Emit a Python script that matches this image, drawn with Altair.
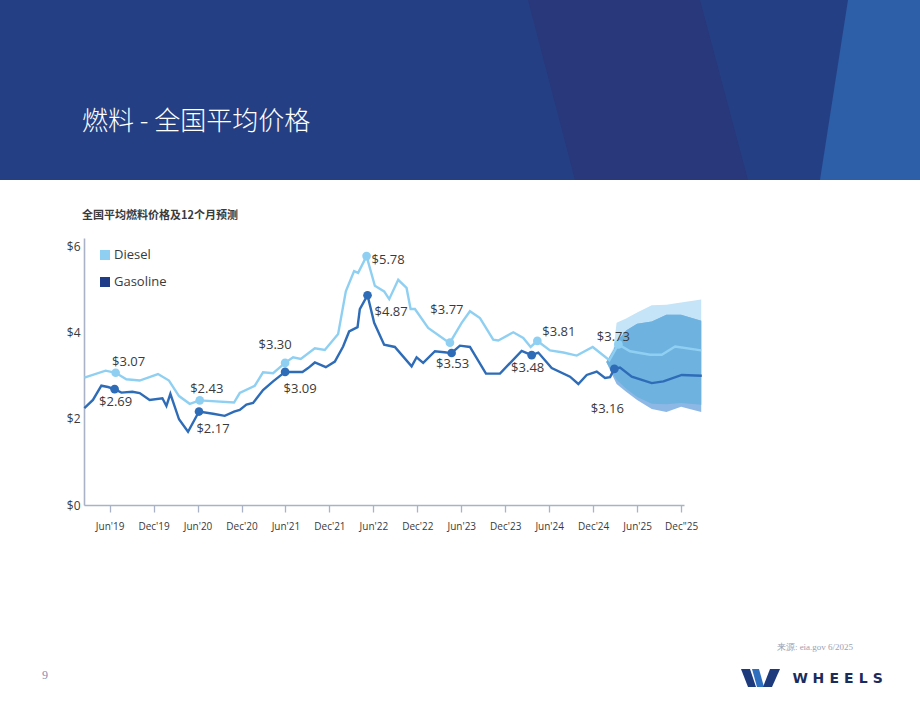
import json
import altair as alt
import pandas as pd

# ------------------------------------------------------------------
# Data: months counted from June 2019 (0 = Jun'19, 6 = Dec'19, ...)
# ------------------------------------------------------------------
diesel_month = [-3.45, -0.55, 0.82, 2.28, 4.10, 6.60, 8.10, 9.47, 10.93, 12.30,
                16.98, 17.76, 19.81, 20.94, 22.31, 23.95, 25.04, 26.09, 28.01, 29.37,
                31.19, 32.24, 33.37, 33.92, 35.07, 36.20, 37.47, 38.16, 39.39, 40.53,
                41.08, 41.67, 43.48, 46.00, 46.45, 48.05, 49.18, 50.55, 52.36, 53.05,
                55.10, 56.46, 57.47, 58.38, 60.11, 61.93, 63.76, 65.94, 68.21, 69.44,
                71.04, 73.77, 75.37, 77.19, 80.74]
diesel_price = [2.96, 3.12, 3.07, 2.92, 2.89, 3.04, 2.89, 2.53, 2.35, 2.43,
                2.38, 2.60, 2.77, 3.08, 3.06, 3.30, 3.43, 3.39, 3.64, 3.60,
                3.97, 4.96, 5.43, 5.39, 5.78, 5.09, 4.96, 4.78, 5.23, 5.04,
                4.55, 4.55, 4.11, 3.81, 3.77, 4.23, 4.50, 4.34, 3.84, 3.82,
                4.01, 3.88, 3.67, 3.81, 3.59, 3.54, 3.47, 3.67, 3.36, 3.73,
                3.57, 3.49, 3.49, 3.68, 3.59]

gas_month = [-3.45, -2.28, -1.13, -0.23, 0.68, 1.60, 3.10, 4.10, 5.46, 7.20,
             7.75, 8.29, 9.47, 10.70, 12.20, 14.11, 15.71, 16.98, 17.76, 18.67,
             19.58, 20.94, 22.31, 23.95, 26.32, 27.09, 28.01, 29.51, 30.74, 31.87,
             32.69, 33.84, 34.15, 35.20, 36.11, 37.47, 38.93, 41.22, 41.90, 42.80,
             44.40, 46.00, 46.68, 47.81, 49.18, 51.37, 53.28, 56.24, 57.61, 58.51,
             60.34, 62.84, 63.98, 65.12, 66.49, 67.62, 68.31, 68.89, 69.67, 71.27,
             74.00, 75.59, 78.10, 80.83]
gas_price = [2.25, 2.44, 2.77, 2.74, 2.69, 2.61, 2.63, 2.60, 2.44, 2.48,
             2.30, 2.58, 1.99, 1.70, 2.17, 2.12, 2.07, 2.17, 2.21, 2.33,
             2.37, 2.67, 2.87, 3.09, 3.09, 3.18, 3.31, 3.20, 3.33, 3.68,
             4.03, 4.13, 4.55, 4.87, 4.23, 3.72, 3.67, 3.22, 3.43, 3.30,
             3.57, 3.54, 3.53, 3.70, 3.67, 3.05, 3.05, 3.58, 3.48, 3.54,
             3.18, 2.98, 2.81, 3.02, 3.10, 2.95, 2.97, 3.16, 3.19, 2.98,
             2.83, 2.87, 3.02, 3.00]

# 12-month forecast ranges
fc_month = [67.8, 68.8, 69.2, 70.5, 72.0, 74.0, 76.0, 78.0, 80.75]
diesel_hi = [3.32, 3.65, 4.23, 4.33, 4.47, 4.64, 4.65, 4.70, 4.77]
diesel_lo = [3.32, 3.02, 2.91, 2.70, 2.51, 2.35, 2.34, 2.37, 2.33]
gas_hi = [3.32, 3.60, 3.79, 4.05, 4.21, 4.26, 4.42, 4.42, 4.28]
gas_lo = [3.32, 2.95, 2.81, 2.63, 2.44, 2.23, 2.16, 2.28, 2.16]

# highlighted prices
diesel_mark_month = [0.82, 12.30, 23.95, 35.07, 46.45, 58.38, 69.44]
diesel_mark_price = [3.07, 2.43, 3.30, 5.78, 3.77, 3.81, 3.73]
gas_mark_month = [0.68, 12.20, 23.95, 35.20, 46.68, 57.61, 68.89]
gas_mark_price = [2.69, 2.17, 3.09, 4.87, 3.53, 3.48, 3.16]

tick_months = list(range(0, 79, 6))
tick_labels = ["Jun'19", "Dec'19", "Jun'20", "Dec'20", "Jun'21", "Dec'21", "Jun'22",
               "Dec'22", "Jun'23", "Dec'23", "Jun'24", "Dec'24", "Jun'25", 'Dec"25']
y_ticks = [0, 2, 4, 6]

# label placement (dx, dy, align) for each highlighted price
diesel_label_style = [(13, -11, "center"), (7, -11, "center"), (-10, -18, "center"),
                      (5, 4, "left"), (-3, -33, "center"), (5, -9, "left"), (-5, -7, "center")]
gas_label_style = [(1, 13, "center"), (14, 17, "center"), (15, 17, "center"),
                   (7, 17, "left"), (1, 11, "center"), (-4, 13, "center"), (-7, 40, "center")]

# ------------------------------------------------------------------
# Style
# ------------------------------------------------------------------
FONT = "Open Sans"
CJK = "Noto Sans CJK SC"
DIESEL = "#8fd0f2"
GAS = "#2e6cb8"
GAS_KEY = "#1f3c88"
AXIS = "#a9b2c6"
TEXT = "#3a3a3a"
BAND_D = "#c5e4f7"
BAND_G = "#8db8e6"
BAND_BOTH = "#6eb2e0"

PLOT_X0, PLOT_Y0 = 84, 238      # top-left corner of the plot area on the page
W, H = 600, 267


def px(x):
    return x - PLOT_X0


def py(y):
    return y - PLOT_Y0


one_row = alt.Data(values=[{}])

x_scale = alt.Scale(domain=[-3.5, 78.4], nice=False, zero=False)
y_scale = alt.Scale(domain=[0, 6.2], nice=False)

x_axis = alt.Axis(values=tick_months, labelExpr=f"{json.dumps(tick_labels)}[round(datum.value / 6)]",
                  tickSize=7, tickColor=AXIS, tickWidth=1.3, domainColor=AXIS, domainWidth=1.6,
                  labelFont=FONT, labelFontSize=10, labelColor=TEXT, labelPadding=9,
                  grid=False, title=None, labelOverlap=False, labelFlush=False)
y_axis = alt.Axis(values=y_ticks, format="$.0f", ticks=False, domainColor=AXIS, domainWidth=1.6,
                  labelFont=FONT, labelFontSize=12, labelColor=TEXT, labelPadding=4,
                  grid=False, title=None)

series = pd.concat([
    pd.DataFrame({"month": diesel_month, "price": diesel_price, "fuel": "Diesel"}),
    pd.DataFrame({"month": gas_month, "price": gas_price, "fuel": "Gasoline"}),
])
marks = pd.concat([
    pd.DataFrame({"month": diesel_mark_month, "price": diesel_mark_price, "fuel": "Diesel"}),
    pd.DataFrame({"month": gas_mark_month, "price": gas_mark_price, "fuel": "Gasoline"}),
])
bands = pd.DataFrame({"month": fc_month, "d_hi": diesel_hi, "d_lo": diesel_lo,
                      "g_hi": gas_hi, "g_lo": gas_lo})

fuel_color = alt.Scale(domain=["Diesel", "Gasoline"], range=[DIESEL, GAS])

# ---------------- header ----------------
header = alt.Chart(one_row).mark_rect(color="#253f84").encode(
    x=alt.value(px(0)), x2=alt.value(px(920)), y=alt.value(py(0)), y2=alt.value(py(180)))
header_band = alt.Chart(one_row).mark_point(
    shape="M-1.1,-0.9L0.62,-0.9L1.1,0.9L-0.63,0.9Z", size=40000, filled=True,
    color="#28387a", opacity=1, strokeWidth=0).encode(x=alt.value(px(638)), y=alt.value(py(90)))
header_right = alt.Chart(one_row).mark_point(
    shape="M-0.22,-0.9L0.6,-0.9L0.6,0.9L-0.5,0.9Z", size=40000, filled=True,
    color="#2d5fa8", opacity=1, strokeWidth=0).encode(x=alt.value(px(870)), y=alt.value(py(90)))
header_title = alt.Chart(one_row).mark_text(
    text="燃料 - 全国平均价格", font=CJK, fontSize=26, fontWeight=300, color="white",
    align="left", baseline="middle").encode(x=alt.value(px(82)), y=alt.value(py(122)))

chart_title = alt.Chart(one_row).mark_text(
    text="全国平均燃料价格及12个月预测", font=CJK, fontSize=11, fontWeight="bold", color=TEXT,
    align="left", baseline="middle").encode(x=alt.value(px(82)), y=alt.value(py(216)))

# ---------------- forecast ranges ----------------
band_x = alt.X("month:Q", scale=x_scale, axis=x_axis)
band_d = alt.Chart(bands).mark_area(color=BAND_D, opacity=1).encode(
    x=band_x, y=alt.Y("d_lo:Q", scale=y_scale, axis=y_axis), y2="d_hi:Q")
band_g = alt.Chart(bands).mark_area(color=BAND_G, opacity=1).encode(
    x="month:Q", y=alt.Y("g_lo:Q", scale=y_scale), y2="g_hi:Q")
band_both = alt.Chart(bands).mark_area(color=BAND_BOTH, opacity=1).encode(
    x="month:Q", y=alt.Y("d_lo:Q", scale=y_scale), y2="g_hi:Q")

# ---------------- price lines & highlighted points ----------------
lines = alt.Chart(series).mark_line(strokeWidth=2.4, strokeJoin="miter").encode(
    x=alt.X("month:Q", scale=x_scale),
    y=alt.Y("price:Q", scale=y_scale),
    color=alt.Color("fuel:N", scale=fuel_color, legend=None),
    detail="fuel:N",
)
dots = alt.Chart(marks).mark_circle(size=75, opacity=1).encode(
    x=alt.X("month:Q", scale=x_scale),
    y=alt.Y("price:Q", scale=y_scale),
    color=alt.Color("fuel:N", scale=fuel_color, legend=None),
)

labels = []
for months, prices, styles in ((diesel_mark_month, diesel_mark_price, diesel_label_style),
                               (gas_mark_month, gas_mark_price, gas_label_style)):
    for m, p, (dx, dy, align) in zip(months, prices, styles):
        lbl = pd.DataFrame({"month": [m], "price": [p], "text": [f"${p:.2f}"]})
        labels.append(alt.Chart(lbl).mark_text(
            font=FONT, fontSize=13, color=TEXT, dx=dx, dy=dy, align=align, baseline="middle"
        ).encode(x=alt.X("month:Q", scale=x_scale), y=alt.Y("price:Q", scale=y_scale), text="text:N"))

# ---------------- legend ----------------
legend = []
for name, col, yy in (("Diesel", DIESEL, 255), ("Gasoline", GAS_KEY, 282)):
    legend.append(alt.Chart(one_row).mark_square(size=100, color=col, opacity=1, filled=True).encode(
        x=alt.value(px(105)), y=alt.value(py(yy))))
    legend.append(alt.Chart(one_row).mark_text(
        text=name, font=FONT, fontSize=13, color=TEXT, align="left", baseline="middle").encode(
        x=alt.value(px(114)), y=alt.value(py(yy))))

# ---------------- footer ----------------
source = alt.Chart(one_row).mark_text(
    text="来源: eia.gov 6/2025", font="Liberation Serif", fontSize=9, color="#9aa2b4",
    align="center", baseline="middle").encode(x=alt.value(px(815)), y=alt.value(py(647)))
page_no = alt.Chart(one_row).mark_text(
    text="9", font="Liberation Serif", fontSize=12, color="#8190b8",
    align="center", baseline="middle").encode(x=alt.value(px(45)), y=alt.value(py(675)))
logo_parts = [
    ("M-1.9,-0.9L-1.0,-0.9L-0.4,0.9L-1.2,0.9Z", "#1d3a7c"),
    ("M-0.8,-0.9L-0.1,-0.9L0.4,0.9L-0.3,0.9Z", "#2f6fc0"),
    ("M1.0,-0.9L2.0,-0.9L1.2,0.9L0.3,0.9Z", "#1d3a7c"),
]
logo = [alt.Chart(one_row).mark_point(shape=path, size=400, filled=True, color=col,
                                      opacity=1, strokeWidth=0).encode(
    x=alt.value(px(760)), y=alt.value(py(678))) for path, col in logo_parts]
wordmark = [alt.Chart(one_row).mark_text(
    text=ch, font="DejaVu Sans", fontSize=14, fontWeight="bold", color="#1b2c5c",
    align="center", baseline="middle").encode(x=alt.value(px(cx)), y=alt.value(py(679)))
    for ch, cx in zip("WHEELS", (800.2, 818.4, 834.2, 848.9, 863.3, 877.9))]

chart = alt.layer(
    header, header_band, header_right, header_title, chart_title,
    band_d, band_g, band_both, lines, dots, *labels, *legend,
    source, page_no, *logo, *wordmark,
).properties(
    width=W, height=H, autosize="none", background="white",
    padding={"left": PLOT_X0, "top": PLOT_Y0, "right": 920 - PLOT_X0 - W, "bottom": 711 - PLOT_Y0 - H},
).configure_view(stroke=None)

chart.save("out.html", embed_options={"renderer": "svg", "actions": False})
